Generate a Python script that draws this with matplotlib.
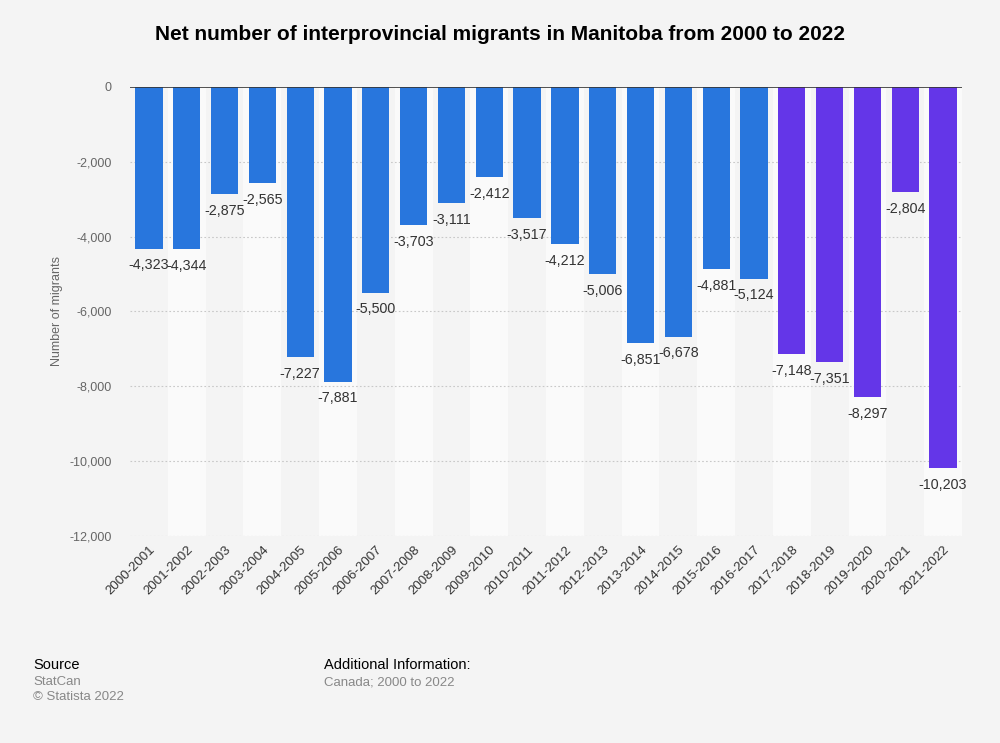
import matplotlib
matplotlib.use("Agg")
import matplotlib.pyplot as plt
import numpy as np

categories = ["2000-2001", "2001-2002", "2002-2003", "2003-2004", "2004-2005", "2005-2006",
              "2006-2007", "2007-2008", "2008-2009", "2009-2010", "2010-2011", "2011-2012",
              "2012-2013", "2013-2014", "2014-2015", "2015-2016", "2016-2017", "2017-2018",
              "2018-2019", "2019-2020", "2020-2021", "2021-2022"]
values = [-4323, -4344, -2875, -2565, -7227, -7881, -5500, -3703, -3111, -2412, -3517,
          -4212, -5006, -6851, -6678, -4881, -5124, -7148, -7351, -8297, -2804, -10203]
yticks = [0, -2000, -4000, -6000, -8000, -10000, -12000]

blue = "#2876dd"
purple = "#6436e8"
colors = [blue] * 17 + [purple] * 5

plt.rcParams["font.family"] = ["Liberation Sans", "DejaVu Sans"]

fig = plt.figure(figsize=(10, 7.43), dpi=100)
fig.patch.set_facecolor("#f4f4f4")
ax = fig.add_axes([0.130, 0.279, 0.832, 0.604])
ax.set_facecolor("#f4f4f4")

x = np.arange(len(categories))
for i in x:
    if i % 2 == 1:
        ax.axvspan(i - 0.5, i + 0.5, color="#fafafa", zorder=0, lw=0)

for y in yticks[1:]:
    ax.axhline(y, color="#c8c8c8", lw=0.8, ls=(0, (1.5, 2)), zorder=1)

ax.bar(x, values, width=0.72, color=colors, zorder=2)
ax.axhline(0, color="#333333", lw=1.2, zorder=3)

for xi, v in zip(x, values):
    ax.text(xi, v - 260, f"{v:,}", ha="center", va="top",
            fontsize=10.3, color="#333333", zorder=4)

ax.set_xlim(-0.5, len(categories) - 0.5)
ax.set_ylim(-12000, 0)
ax.set_yticks(yticks)
ax.set_yticklabels([f"{t:,}" for t in yticks], color="#666666", fontsize=9)
ax.set_xticks(x)
ax.set_xticklabels(categories, rotation=45, ha="right", rotation_mode="anchor",
                   fontsize=9.5, color="#333333")
ax.tick_params(axis="both", length=0)
ax.tick_params(axis="y", pad=13)
ax.tick_params(axis="x", pad=6)
for s in ax.spines.values():
    s.set_visible(False)
ax.set_ylabel("Number of migrants", color="#666666", fontsize=9, labelpad=5)

fig.text(0.5, 0.953, "Net number of interprovincial migrants in Manitoba from 2000 to 2022",
         ha="center", va="center", fontsize=15, fontweight="bold", color="#000000")

fig.text(0.033, 0.105, "Source", fontsize=10.5, color="#000000", va="center")
fig.text(0.033, 0.082, "StatCan", fontsize=9.5, color="#888888", va="center")
fig.text(0.033, 0.062, "© Statista 2022", fontsize=9.5, color="#888888", va="center")
fig.text(0.324, 0.105, "Additional Information:", fontsize=10.5, color="#000000", va="center")
fig.text(0.324, 0.082, "Canada; 2000 to 2022", fontsize=9.5, color="#888888", va="center")

fig.savefig("out.png", dpi=100, facecolor=fig.get_facecolor())
